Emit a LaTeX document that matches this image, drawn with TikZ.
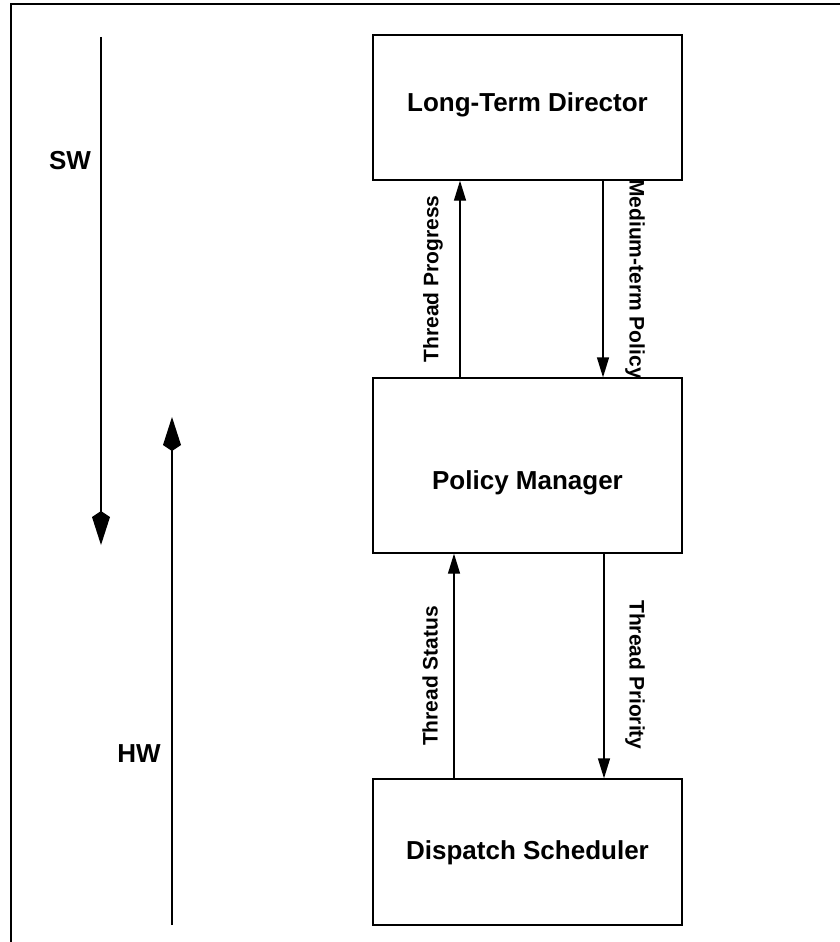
\documentclass[tikz,border=0pt]{standalone}
\usepackage{fontspec}
\setmainfont{Liberation Sans}
\usetikzlibrary{arrows.meta, positioning}

\begin{document}
\begin{tikzpicture}[
        x=1pt, y=-1pt,
        %Styles
        Box/.style={
            draw, line width=1.3pt,
            minimum width=309pt,
            text height=18.6pt, text depth=0pt,
            font=\bfseries\fontsize{26}{30}\selectfont,
        },
        Flow/.style={line width=1.3pt, -{Triangle[length=20pt, width=12pt]}},
        Layer/.style={line width=1.3pt, -{Kite[length=34pt, width=18pt, inset=6pt]}},
        Label/.style={font=\bfseries\fontsize{21}{25}\selectfont, inner sep=0pt},
        Side/.style={font=\bfseries\fontsize{26}{30}\selectfont, inner sep=0pt},
    ]
\useasboundingbox (0,0) rectangle (840,942);

%frame
\draw[line width=1.5pt] (840,4) -- (11,4) -- (11,942);

%boxes
\node[Box, minimum height=145pt, text depth=11pt] (ltd) at (527.5,107.5) {Long-Term Director};
\node[Box, minimum height=175pt, text height=48pt] (pm) at (527.5,465.5) {Policy Manager};
\node[Box, minimum height=146pt, text depth=4pt] (ds) at (527.5,852) {Dispatch Scheduler};

%flows between the boxes
\draw[Flow] ([xshift=-67.5pt]pm.north) -- ([xshift=-67.5pt]ltd.south)
    node[Label, pos=0.5, xshift=-27pt, rotate=90] (progress) {Thread Progress};
\draw[Flow] ([xshift=75.5pt]ltd.south) -- ([xshift=75.5pt]pm.north)
    node[Label, pos=0.5, xshift=32pt, rotate=-90] (policy) {Medium-term Policy};
\draw[Flow] ([xshift=-73.5pt]ds.north) -- ([xshift=-73.5pt]pm.south)
    node[Label, pos=0.456, xshift=-24pt, rotate=90] (status) {Thread Status};
\draw[Flow] ([xshift=76.5pt]pm.south) -- ([xshift=76.5pt]ds.north)
    node[Label, pos=0.54, xshift=31pt, rotate=-90] (priority) {Thread Priority};

%SW / HW
\coordinate (swtop) at (101,37);
\coordinate (swend) at (101,545);
\coordinate (hwbot) at (172,925);
\coordinate (hwend) at (172,417);
\draw[Layer] (swtop) -- (swend);
\draw[Layer] (hwbot) -- (hwend);
\node[Side] (sw) at (70,161) {SW};
\node[Side] (hw) at (139,754) {HW};

\end{tikzpicture}
\end{document}
